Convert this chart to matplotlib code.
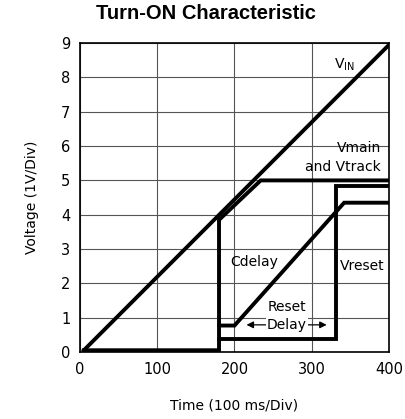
import numpy as np
from matplotlib import pyplot as plt

# curve data (time in ms, voltage in V)
vin_t = [5, 400]
vin_v = [0.05, 8.95]

vmain_t = [5, 180, 180, 234, 400]
vmain_v = [0.05, 0.05, 3.85, 5.0, 5.0]

cdelay_t = [180, 200, 342, 400]
cdelay_v = [0.77, 0.77, 4.35, 4.35]

vreset_t = [180, 331, 331, 400]
vreset_v = [0.38, 0.38, 4.83, 4.83]

xticks = [0, 100, 200, 300, 400]
yticks = list(range(0, 10))

fig = plt.figure(figsize=(4.06, 4.19), dpi=100)
ax = fig.add_axes([0.197, 0.160, 0.761, 0.737])

lw = 2.8
for t, v in [(vin_t, vin_v), (vmain_t, vmain_v), (cdelay_t, cdelay_v), (vreset_t, vreset_v)]:
    ax.plot(t, v, color='black', lw=lw, solid_joinstyle='miter', zorder=3)

ax.set_xlim(0, 400)
ax.set_ylim(0, 9)
ax.set_xticks(xticks)
ax.set_yticks(yticks)
ax.tick_params(length=0, labelsize=10.5, pad=7)
ax.grid(True, color='#555555', lw=0.8)
for s in ax.spines.values():
    s.set_linewidth(1.2)

ax.set_xlabel('Time (100 ms/Div)', fontsize=10, labelpad=16)
ax.set_ylabel('Voltage (1V/Div)', fontsize=10, labelpad=16)
fig.suptitle('Turn-ON Characteristic', x=0.507, y=0.99, fontsize=14.5,
             fontweight='bold', family='Liberation Sans')

# annotations
ax.text(343, 8.37, r'V$_{\rm IN}$', fontsize=10, ha='center', va='center')
ax.text(390, 5.95, 'Vmain', fontsize=10, ha='right', va='center')
ax.text(390, 5.4, 'and Vtrack', fontsize=10, ha='right', va='center')
ax.text(225, 2.62, 'Cdelay', fontsize=10, ha='center', va='center')
ax.text(366, 2.5, 'Vreset', fontsize=10, ha='center', va='center')
ax.text(268, 1.31, 'Reset', fontsize=10, ha='center', va='center')
ax.text(268, 0.79, 'Delay', fontsize=10, ha='center', va='center',
        bbox=dict(fc='white', ec='none', pad=0.5), zorder=5)
ax.annotate('', xy=(212, 0.79), xytext=(250, 0.79),
            arrowprops=dict(arrowstyle='-|>', color='black', lw=0.9), zorder=4)
ax.annotate('', xy=(323, 0.79), xytext=(286, 0.79),
            arrowprops=dict(arrowstyle='-|>', color='black', lw=0.9), zorder=4)

fig.savefig('out.png', dpi=100)
